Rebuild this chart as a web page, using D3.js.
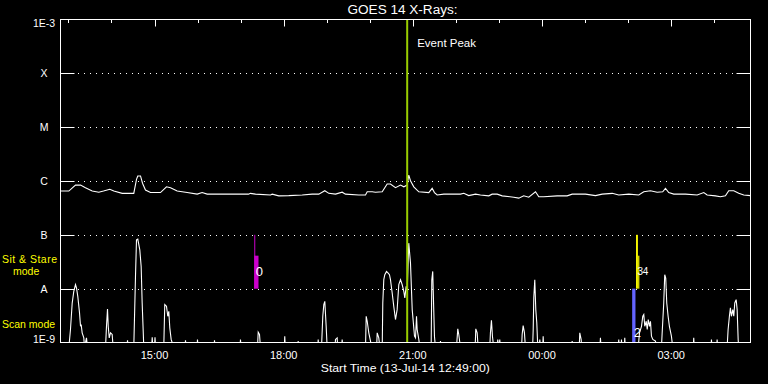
<!DOCTYPE html>
<html><head><meta charset="utf-8">
<script src="https://cdn.jsdelivr.net/npm/d3@7"></script>
<style>body{margin:0;background:#000}svg{display:block}text{font-family:"Liberation Sans",Arial,sans-serif}</style>
</head><body><svg id="c" width="768" height="384"></svg>
<script>
// ---------------- DATA ----------------
const titleText = "GOES 14 X-Rays:";
const startTime = new Date(2014, 6, 13, 12, 49, 0);
const durationMin = 961.5;
const xTickLabels = ["15:00", "18:00", "21:00", "00:00", "03:00"];
const levelLabels = ["1E-9", "A", "B", "C", "M", "X", "1E-3"];
const levelValues = [1e-9, 1e-8, 1e-7, 1e-6, 1e-5, 1e-4, 1e-3];
const eventPeakMin = 483.1;
const BG = 8e-10; // below the plot floor
// [minutes after start, flux W/m^2]
const longChannel = [[0,6.5e-7],[11.6,6.5e-7],[20.9,8.4e-7],[27.9,8.4e-7],[34.8,7.5e-7],[44.2,6.5e-7],[53.4,6.2e-7],[59.9,6.5e-7],[68.7,7.0e-7],[74.3,6.5e-7],[86,5.9e-7],[102.1,5.9e-7],[105.9,1.07e-6],[107.7,1.24e-6],[111.5,1.24e-6],[114.3,9.1e-7],[118.4,6.8e-7],[125.4,6.1e-7],[139.3,6.1e-7],[147.7,7.8e-7],[153.3,7.5e-7],[162.6,6.5e-7],[176.5,6.1e-7],[190.5,5.7e-7],[197.4,6.1e-7],[204.4,5.7e-7],[216,5.7e-7],[243.8,5.7e-7],[262,5.7e-7],[264.7,5.9e-7],[271.7,5.7e-7],[292.6,5.5e-7],[295,5.7e-7],[304.2,5.3e-7],[318.1,5.35e-7],[336.8,5.5e-7],[350.7,5.7e-7],[359.9,5.7e-7],[368.3,6.6e-7],[373.9,5.9e-7],[383.2,5.7e-7],[392.5,6.2e-7],[397.1,5.7e-7],[415.6,5.5e-7],[425,5.5e-7],[427.4,6.3e-7],[434.3,6.3e-7],[438.9,6.2e-7],[448.3,6.3e-7],[455.2,8.8e-7],[459.8,8.8e-7],[466.8,7.5e-7],[473.8,8.4e-7],[478.4,7.8e-7],[483.1,8.4e-7],[485.3,1.29e-6],[487.7,1.01e-6],[492.3,7.8e-7],[499.3,6.3e-7],[513.2,6.1e-7],[517.9,7.3e-7],[521.1,6.1e-7],[524.9,5.5e-7],[534.1,5.7e-7],[557.4,5.7e-7],[562,5.9e-7],[568.9,5.35e-7],[578.3,5.7e-7],[585.2,5.5e-7],[596.8,5.3e-7],[601.5,5.7e-7],[608.5,5.7e-7],[615.5,5.3e-7],[631.6,5.0e-7],[638.6,4.8e-7],[645.5,5.3e-7],[652.5,5.0e-7],[661.9,6.3e-7],[666.5,5.1e-7],[673.4,5.1e-7],[692.1,5.3e-7],[706,5.3e-7],[713,5.7e-7],[731.5,5.7e-7],[745.5,5.35e-7],[754.8,5.7e-7],[768.8,5.9e-7],[777.9,5.5e-7],[791.9,5.7e-7],[805.8,5.5e-7],[812.8,6.3e-7],[822.1,6.6e-7],[831.4,6.2e-7],[839.2,6.3e-7],[843,7.3e-7],[847.6,6.1e-7],[854.6,5.7e-7],[870.9,5.7e-7],[887.2,5.5e-7],[896.4,6.1e-7],[901.1,5.5e-7],[912.7,5.3e-7],[919.6,5.1e-7],[926.6,5.3e-7],[931.2,6.6e-7],[938.2,6.6e-7],[945.1,5.9e-7],[952.1,5.5e-7],[961.4,5.35e-7]];
const shortChannel = [[0,BG],[11.6,BG],[13.9,1.74e-9],[16.3,5.4e-9],[18.5,8.9e-9],[20.9,1.19e-8],[22.3,1.03e-8],[24.1,7.2e-9],[26.5,3.55e-9],[27.9,2.0e-9],[28.8,2.15e-9],[30.2,1.51e-9],[32.5,1.22e-9],[33.4,BG],[36.2,1.22e-9],[37.6,BG],
[62.7,BG],[64.1,2.0e-9],[65.5,4.2e-9],[66.5,2.0e-9],[67.9,1.22e-9],[69.7,1.51e-9],[72,1.41e-9],[73.4,BG],
[92.5,BG],[93.4,1.1e-9],[94.3,BG],
[102.1,BG],[104.5,1.69e-8],[105.9,8.07e-8],[107.7,8.3e-8],[110.5,5.27e-8],[112.4,2.59e-8],[113.8,5.4e-9],[116.1,BG],
[127,BG],[127.8,1.25e-9],[128.6,BG],[131,BG],[131.7,1.25e-9],[132.5,BG],
[143.9,BG],[145.3,5.06e-9],[147.7,4.7e-9],[149.5,3.07e-9],[150.9,3.8e-9],[152.3,1.87e-9],[154.2,1.14e-9],[157.9,BG],
[173.5,BG],[174.2,1.1e-9],[175,BG],[190.2,BG],[190.9,1.14e-9],[191.6,BG],[214,BG],[214.6,1.1e-9],[215.3,BG],[250,BG],[250.8,1.14e-9],[251.6,BG],
[274.5,BG],[275.5,1.55e-9],[277.3,1.41e-9],[278.7,BG],
[311.8,BG],[312.5,1.31e-9],[313.2,BG],[330.5,BG],[331.2,1.06e-9],[332,BG],[358.4,BG],[359.1,1.14e-9],[359.8,BG],
[363.7,BG],[365.5,3.07e-9],[366.9,5.06e-9],[368.3,5.82e-9],[370.2,2.0e-9],[371.6,BG],
[382.5,BG],[383.2,1.14e-9],[385.5,1.22e-9],[386.3,BG],[391.8,BG],[392.5,1.14e-9],[393.2,BG],
[425,BG],[426,3.07e-9],[427.4,2.48e-9],[429.6,1.51e-9],[432,1.06e-9],[433.4,BG],
[440.5,BG],[441.3,1.51e-9],[443.5,1.22e-9],[445.1,BG],
[448.3,BG],[449.1,5.4e-9],[450.5,1.47e-8],[451.9,1.82e-8],[454.3,2.09e-8],[456.6,1.95e-8],[458.4,1.82e-8],[459.8,1.47e-8],[462.2,8.3e-9],[464.4,4.7e-9],[466.8,2.67e-9],[469.1,4.08e-9],[471.4,1.19e-8],[473.8,1.47e-8],[476.1,1.19e-8],[478.4,8.9e-9],[479.8,6.73e-9],[481.7,1.1e-8],[483.1,9e-9],[485.3,7.0e-8],[487.7,2.99e-8],[490.1,4.08e-9],[492.3,1.87e-9],[493.3,1.31e-9],[494.7,1.22e-9],[496.1,3.07e-9],[497,1.74e-9],[499.3,1.14e-9],[500.7,BG],
[516.5,BG],[517.4,1.47e-8],[518.7,2.09e-8],[520.1,4.08e-9],[521.1,1.31e-9],[522.5,BG],
[528.8,BG],[529.5,1.06e-9],[530.2,BG],
[551.8,BG],[552.5,1.1e-9],[553.6,1.79e-9],[555,1.41e-9],[557.4,BG],
[577.8,BG],[578.7,1.79e-9],[580.6,1.51e-9],[582,BG],
[598.2,BG],[599.1,1.51e-9],[600.5,2.59e-9],[601.9,1.31e-9],[603.7,BG],
[608.5,BG],[609.3,1.14e-9],[610.5,BG],[611.4,BG],[612.1,1.14e-9],[612.9,BG],
[642.5,BG],[643.3,1.41e-9],[644.7,2.06e-9],[646.5,1.51e-9],[647.9,BG],
[657.9,BG],[658.7,1.74e-9],[659.5,6.73e-9],[660.9,1.47e-8],[662.3,4.08e-9],[663.7,2.32e-9],[665.1,BG],
[667.2,BG],[667.9,1.14e-9],[668.6,BG],[671.9,BG],[672.6,1.31e-9],[673.3,BG],
[712.3,BG],[713,1.06e-9],[713.7,BG],[722.8,BG],[723.6,1.51e-9],[725.5,1.14e-9],[726.3,BG],
[751.6,BG],[752.4,1.22e-9],[753.2,BG],[777.2,BG],[777.9,1.14e-9],[778.6,BG],[781,BG],[781.7,1.14e-9],[782.4,BG],[785.6,BG],[786.3,1.22e-9],[787,BG],
[805,BG],[806.8,1.51e-9],[809.6,2.0e-9],[811.4,3.07e-9],[812.8,3.3e-9],[814.2,2.0e-9],[816.2,2.48e-9],[817.6,1.74e-9],[819,2.67e-9],[820.8,2.0e-9],[822.1,2.48e-9],[823.5,1.31e-9],[825.4,1.14e-9],[829.1,1.06e-9],[830.5,BG],
[837.4,BG],[838.4,1.51e-9],[840.6,5.43e-9],[842,1.82e-8],[843.4,1.58e-8],[844.8,5.43e-9],[846.7,3.07e-9],[848.5,2.0e-9],[851.3,1.31e-9],[853.2,BG],
[881.7,BG],[882.4,1.22e-9],[883.1,BG],[906.4,BG],[907.1,1.14e-9],[907.8,BG],[914.3,BG],[915,1.14e-9],[915.7,BG],
[928.9,BG],[930.3,1.74e-9],[932.1,3.07e-9],[933.5,4.4e-9],[934.9,3.07e-9],[936.8,4.08e-9],[938.2,3.07e-9],[939.6,5.43e-9],[941.5,6.25e-9],[942.9,4.08e-9],[944.3,1.14e-9],[945.1,BG],
[961.4,BG]];
// observation blocks
const obsStartMin = [270.0, 270.0, 796.6, 802.0, 805.0];
const obsEndMin = [270.8, 275.9, 801.2, 804.6, 806.6];
const obsTopFlux = [1e-7, 4.1e-8, 1e-8, 1e-7, 4.1e-8];
const obsBottomFlux = [1e-8, 1e-8, 1e-9, 1e-8, 1e-8];
const obsMode = ["sit", "sit", "scan", "sit2", "sit2"];
const obsLabel = ["", "0", "2", "3", "4"];
const obsLabelFlux = [null, 2.07e-8, 1.53e-9, 2.07e-8, 2.07e-8];
const modeLabels = ["Sit & Stare", "mode", "Scan mode"];

// ---------------- DRAW ----------------
const L = 60.5, R = 750.5, T = 19.5, Bt = 342.5;
const toDate = m => new Date(startTime.getTime() + m * 60000);
const endTime = toDate(durationMin);
const x = d3.scaleTime().domain([startTime, endTime]).range([L, R]);
const y = d3.scaleLog().domain([1e-9, 1e-3]).range([Bt, T]);
const modeColor = {sit: "#cc00cc", scan: "#6464ff", sit2: "#ffff00"};

const svg = d3.select("#c");
svg.append("rect").attr("width", 768).attr("height", 384).attr("fill", "#000");
svg.append("defs").append("clipPath").attr("id", "clip")
  .append("rect").attr("x", L).attr("y", T).attr("width", R - L).attr("height", Bt - T);

// level gridlines
const innerLevels = levelValues.slice(1, -1);
const grid = svg.append("g");
innerLevels.forEach(v => {
  const yy = Math.round(y(v)) + 0.5;
  grid.append("line").attr("x1", L).attr("x2", L + 14).attr("y1", yy).attr("y2", yy).attr("stroke", "#fff");
  grid.append("line").attr("x1", R - 14).attr("x2", R).attr("y1", yy).attr("y2", yy).attr("stroke", "#fff");
  grid.append("line").attr("x1", L + 17.5).attr("x2", R - 15).attr("y1", yy).attr("y2", yy)
    .attr("stroke", "#fff").attr("stroke-dasharray", "1,5");
});

// curves
const line = d3.line().x(d => x(toDate(d[0]))).y(d => y(d[1]));
const curves = svg.append("g").attr("clip-path", "url(#clip)");
curves.append("path").datum(longChannel).attr("d", line).attr("fill", "none").attr("stroke", "#fff").attr("stroke-width", 1.1);
curves.append("path").datum(shortChannel).attr("d", line).attr("fill", "none").attr("stroke", "#fff").attr("stroke-width", 1.1);

// observation blocks
const obs = svg.append("g");
obsStartMin.forEach((s, i) => {
  const x0 = x(toDate(s)), x1 = x(toDate(obsEndMin[i]));
  obs.append("rect").attr("x", x0).attr("width", Math.max(1, x1 - x0))
    .attr("y", y(obsTopFlux[i])).attr("height", y(obsBottomFlux[i]) - y(obsTopFlux[i]))
    .attr("fill", modeColor[obsMode[i]]);
});
obsLabel.forEach((lab, i) => {
  if (!lab) return;
  const shift = lab === "4" ? 4.5 : 1.5;
  obs.append("text").attr("x", x(toDate(obsStartMin[i])) + shift).attr("y", y(obsLabelFlux[i]))
    .attr("dy", "0.36em").attr("fill", "#fff").attr("font-size", lab === "3" || lab === "4" ? 10 : 13).text(lab);
});

// event peak
const xp = x(toDate(eventPeakMin));
svg.append("line").attr("x1", xp).attr("x2", xp).attr("y1", T).attr("y2", Bt)
  .attr("stroke", "#99cc00").attr("stroke-width", 2);
svg.append("text").attr("x", xp + 10).attr("y", 46.5).attr("fill", "#fff").attr("font-size", 11.5).text("Event Peak");

// frame
svg.append("rect").attr("x", L).attr("y", T).attr("width", R - L).attr("height", Bt - T)
  .attr("fill", "none").attr("stroke", "#fff");

// top ticks
const hours = d3.timeHour.every(1).range(startTime, endTime);
svg.append("g").selectAll("line").data(hours).join("line")
  .attr("x1", d => Math.round(x(d)) + 0.5).attr("x2", d => Math.round(x(d)) + 0.5)
  .attr("y1", T).attr("y2", d => T + (d.getHours() % 3 === 0 ? 7 : 3.5))
  .attr("stroke", "#fff");

// bottom tick labels
const tickDates = xTickLabels.map(s => {
  const [h, m] = s.split(":").map(Number);
  let d = new Date(startTime); d.setHours(h, m, 0, 0);
  if (d < startTime) d = d3.timeDay.offset(d, 1);
  return d;
});
svg.append("g").selectAll("text").data(xTickLabels).join("text")
  .attr("x", (d, i) => x(tickDates[i])).attr("y", 359.3).attr("text-anchor", "middle")
  .attr("fill", "#fff").attr("font-size", 11).text(d => d);

// level labels
svg.append("g").selectAll("text").data(levelLabels).join("text")
  .attr("x", 44).attr("text-anchor", "middle")
  .attr("y", (d, i) => i === 0 ? Bt + 0.5 : i === levelLabels.length - 1 ? T + 7.5 : y(levelValues[i]) + 4)
  .attr("fill", "#fff").attr("font-size", 10.5).text(d => d);

// mode labels
svg.append("text").attr("x", 2).attr("y", 262.5).attr("fill", "#ffff00").attr("font-size", 10.5).attr("textLength", 55).text(modeLabels[0]);
svg.append("text").attr("x", 13).attr("y", 275).attr("fill", "#ffff00").attr("font-size", 10.5).text(modeLabels[1]);
svg.append("text").attr("x", 2).attr("y", 327.7).attr("fill", "#ffff00").attr("font-size", 10.5).text(modeLabels[2]);

// title and x-axis title
svg.append("text").attr("x", (L + R) / 2 - 3).attr("y", 13.5).attr("text-anchor", "middle")
  .attr("fill", "#fff").attr("font-size", 12).attr("textLength", 110).attr("lengthAdjust", "spacingAndGlyphs").text(titleText);
svg.append("text").attr("x", 405.3).attr("y", 371.5).attr("text-anchor", "middle")
  .attr("fill", "#fff").attr("font-size", 11.5).attr("textLength", 169).attr("lengthAdjust", "spacingAndGlyphs")
  .text("Start Time (" + d3.timeFormat("%d-%b-%y %H:%M:%S")(startTime) + ")");
</script></body></html>
